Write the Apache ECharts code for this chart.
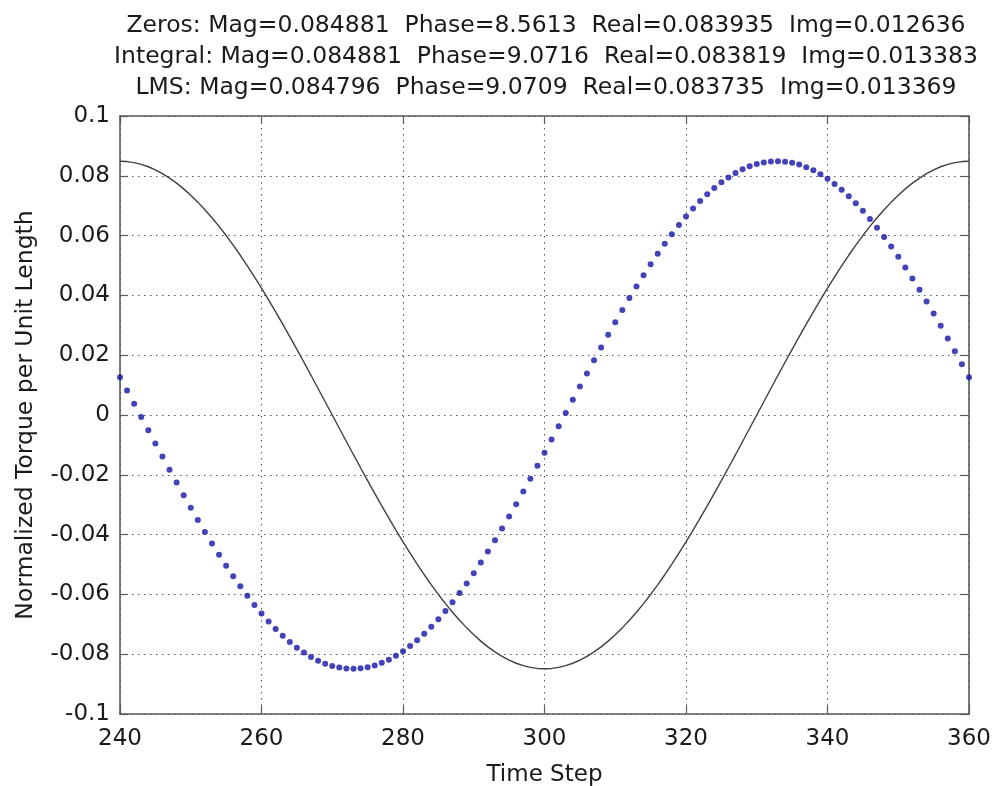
<!DOCTYPE html>
<html>
<head>
<meta charset="utf-8">
<script src="https://cdn.jsdelivr.net/npm/echarts@6/dist/echarts.min.js"></script>
<style>
html,body{margin:0;padding:0;background:#fff;}
#chart{width:995px;height:786px;}
</style>
</head>
<body>
<div id="chart"></div>
<script>
// ---- data ----
var timeStart = 240, timeEnd = 360;
var titleLines = [
  'Zeros: Mag=0.084881  Phase=8.5613  Real=0.083935  Img=0.012636',
  'Integral: Mag=0.084881  Phase=9.0716  Real=0.083819  Img=0.013383',
  'LMS: Mag=0.084796  Phase=9.0709  Real=0.083735  Img=0.013369'
];
var xTicks = [240, 260, 280, 300, 320, 340, 360];
var yTicks = [-0.1, -0.08, -0.06, -0.04, -0.02, 0, 0.02, 0.04, 0.06, 0.08, 0.1];

// black solid line (reference torque)
var lineValues = [
  0.08488,0.08476,0.08441,0.08384,0.08303,0.08199,0.08073,0.07924,0.07754,0.07563,
  0.07351,0.07119,0.06867,0.06596,0.06308,0.06002,0.05680,0.05342,0.04989,0.04623,
  0.04244,0.03853,0.03452,0.03042,0.02623,0.02197,0.01765,0.01328,0.00887,0.00444,0,
  -0.00444,-0.00887,-0.01328,-0.01765,-0.02197,-0.02623,-0.03042,-0.03452,-0.03853,-0.04244,
  -0.04623,-0.04989,-0.05342,-0.05680,-0.06002,-0.06308,-0.06596,-0.06867,-0.07119,-0.07351,
  -0.07563,-0.07754,-0.07924,-0.08073,-0.08199,-0.08303,-0.08384,-0.08441,-0.08476,-0.08488,
  -0.08476,-0.08441,-0.08384,-0.08303,-0.08199,-0.08073,-0.07924,-0.07754,-0.07563,-0.07351,
  -0.07119,-0.06867,-0.06596,-0.06308,-0.06002,-0.05680,-0.05342,-0.04989,-0.04623,-0.04244,
  -0.03853,-0.03452,-0.03042,-0.02623,-0.02197,-0.01765,-0.01328,-0.00887,-0.00444,0,
  0.00444,0.00887,0.01328,0.01765,0.02197,0.02623,0.03042,0.03452,0.03853,0.04244,
  0.04623,0.04989,0.05342,0.05680,0.06002,0.06308,0.06596,0.06867,0.07119,0.07351,
  0.07563,0.07754,0.07924,0.08073,0.08199,0.08303,0.08384,0.08441,0.08476,0.08488
];
// blue dotted series (measured torque)
var dotValues = [
  0.01264,0.00822,0.00379,
  -0.00065,-0.00509,-0.00952,-0.01392,-0.01829,-0.02260,-0.02685,-0.03103,-0.03512,-0.03911,
  -0.04301,-0.04678,-0.05042,-0.05393,-0.05728,-0.06048,-0.06352,-0.06637,-0.06905,-0.07155,
  -0.07384,-0.07593,-0.07781,-0.07947,-0.08093,-0.08216,-0.08317,-0.08394,-0.08448,-0.08479,
  -0.08488,-0.08473,-0.08434,-0.08374,-0.08289,-0.08182,-0.08053,-0.07901,-0.07728,-0.07533,
  -0.07318,-0.07083,-0.06829,-0.06555,-0.06264,-0.05956,-0.05632,-0.05291,-0.04936,-0.04568,
  -0.04188,-0.03795,-0.03393,-0.02981,-0.02561,-0.02134,-0.01701,-0.01264,-0.00822,-0.00379,
  0.00065,0.00509,0.00952,0.01392,0.01829,0.02260,0.02685,0.03103,0.03512,0.03911,
  0.04301,0.04678,0.05042,0.05393,0.05728,0.06048,0.06352,0.06637,0.06905,0.07155,
  0.07384,0.07593,0.07781,0.07947,0.08093,0.08216,0.08317,0.08394,0.08448,0.08479,
  0.08488,0.08473,0.08434,0.08374,0.08289,0.08182,0.08053,0.07901,0.07728,0.07533,
  0.07318,0.07083,0.06829,0.06555,0.06264,0.05956,0.05632,0.05291,0.04936,0.04568,
  0.04188,0.03795,0.03393,0.02981,0.02561,0.02134,0.01701,0.01264
];

// ---- build ----
var timeSteps = [];
for (var t = timeStart; t <= timeEnd; t++) timeSteps.push(t);
var lineData = timeSteps.map(function (t, i) { return [t, lineValues[i]]; });
var dotData = timeSteps.map(function (t, i) { return [t, dotValues[i]]; });

var FONT = "'DejaVu Sans', 'Liberation Sans', Arial, sans-serif";
var TXT = '#1a1a1a';
var AX = '#5a5a5a';

function yFmt(v) { return String(parseFloat(v.toFixed(2))); }

var chart = echarts.init(document.getElementById('chart'), null, { renderer: 'canvas' });
var gridLine = { show: true, lineStyle: { color: '#555', type: [1.5, 4.5], width: 1 } };
var tick = { show: true, inside: true, length: 8, lineStyle: { color: AX, width: 1.2 } };
var axLine = { show: true, onZero: false, lineStyle: { color: AX, width: 1.6 } };
var option = {
  backgroundColor: '#fff',
  animation: false,
  title: {
    text: titleLines.join('\n'),
    left: 541, top: 5, textAlign: 'center',
    textStyle: { fontFamily: FONT, fontSize: 23.5, fontWeight: 'normal', color: TXT, lineHeight: 31 }
  },
  grid: { left: 120, right: 26, top: 116, bottom: 72, containLabel: false, outerBoundsMode: 'none' },
  xAxis: [{
    type: 'value', min: xTicks[0], max: xTicks[xTicks.length - 1], interval: 20,
    name: 'Time Step', nameLocation: 'middle', nameGap: 50,
    nameTextStyle: { fontFamily: FONT, fontSize: 23, color: TXT },
    axisLine: axLine, axisTick: tick,
    axisLabel: { fontFamily: FONT, fontSize: 23, color: TXT, margin: 14 },
    splitLine: gridLine
  }, {
    type: 'value', position: 'top', min: xTicks[0], max: xTicks[xTicks.length - 1], interval: 20,
    axisLine: axLine, axisTick: tick,
    axisLabel: { show: false }, splitLine: { show: false }
  }],
  yAxis: [{
    type: 'value', min: yTicks[0], max: yTicks[yTicks.length - 1], interval: 0.02,
    name: 'Normalized Torque per Unit Length', nameLocation: 'middle', nameGap: 82,
    nameTextStyle: { fontFamily: FONT, fontSize: 23.5, color: TXT },
    axisLine: axLine, axisTick: tick,
    axisLabel: { fontFamily: FONT, fontSize: 23, color: TXT, margin: 10, formatter: yFmt },
    splitLine: gridLine
  }, {
    type: 'value', position: 'right', min: yTicks[0], max: yTicks[yTicks.length - 1], interval: 0.02,
    axisLine: axLine, axisTick: tick,
    axisLabel: { show: false }, splitLine: { show: false }
  }],
  series: [{
    type: 'line', data: lineData, xAxisIndex: 0, yAxisIndex: 0,
    showSymbol: false, symbol: 'none',
    lineStyle: { color: '#404040', width: 1.4 }, z: 3
  }, {
    type: 'scatter', data: dotData, xAxisIndex: 0, yAxisIndex: 0,
    symbol: 'circle', symbolSize: 6,
    itemStyle: { color: '#1414a8' }, z: 4
  }]
};
chart.setOption(option);
</script>
</body>
</html>
